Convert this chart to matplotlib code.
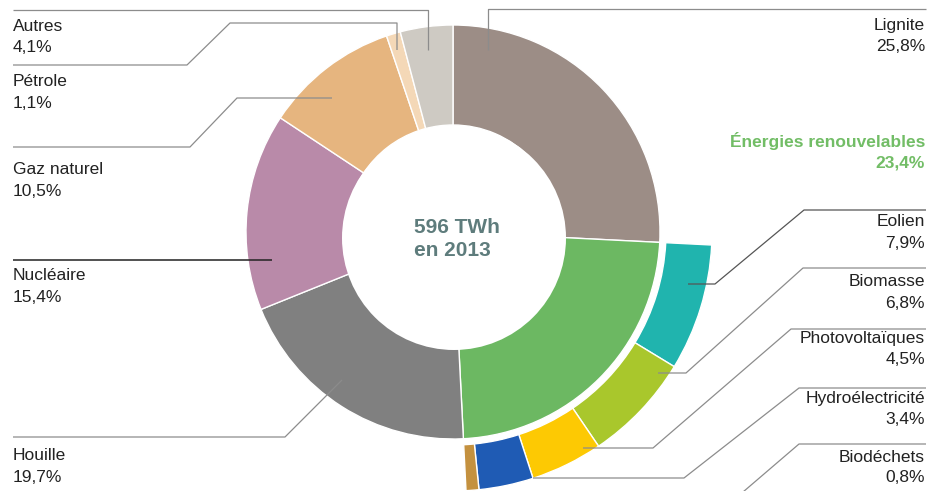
import matplotlib
matplotlib.use("Agg")
import matplotlib.pyplot as plt
import numpy as np
from matplotlib.patches import Circle

# ---- data ----
main_labels = ["Lignite", "Énergies renouvelables", "Houille", "Nucléaire",
               "Gaz naturel", "Pétrole", "Autres"]
main_values = [25.8, 23.4, 19.7, 15.4, 10.5, 1.1, 4.1]
main_colors = ["#9c8d86", "#6cb862", "#808080", "#b98aa9",
               "#e6b57f", "#f4d8b7", "#cecac3"]

ren_labels = ["Eolien", "Biomasse", "Photovoltaïques", "Hydroélectricité", "Biodéchets"]
ren_values = [7.9, 6.8, 4.5, 3.4, 0.8]
ren_colors = ["#20b4ae", "#a9c72c", "#fdc903", "#1f5bb4", "#c4913f"]

center_text = "596 TWh\nen 2013"

def fmt(v):
    return f"{v:.1f}".replace(".", ",") + "%"

W, H = 936, 491
fig = plt.figure(figsize=(W / 100, H / 100), dpi=100)
ax = fig.add_axes([0, 0, 1, 1])

def Y(p):
    return H - p

CX, CY = 453, Y(232)
R_IN, R_OUT = 207, 259

ax.pie(main_values, colors=main_colors, startangle=90, counterclock=False,
       radius=R_IN, center=(CX, CY),
       wedgeprops=dict(width=100, edgecolor="white", linewidth=1.0))
ax.add_patch(Circle((454, Y(238)), 112, facecolor="white", edgecolor="none", zorder=3))

start = 90 - 360 * main_values[0] / 100
ax.pie(np.array(ren_values) / 100, normalize=False, colors=ren_colors,
       startangle=start, counterclock=False, radius=R_OUT, center=(CX, CY),
       wedgeprops=dict(width=R_OUT - 213, edgecolor="white", linewidth=1.0))

ax.set_xlim(0, W)
ax.set_ylim(0, H)
ax.set_aspect("equal")
ax.axis("off")

FONT = "Liberation Sans"
TC = "#222222"
LC = "#8c8c8c"
FS = 12.5

def line(pts, color=LC, lw=0.9):
    xs = [p[0] for p in pts]
    ys = [Y(p[1]) for p in pts]
    ax.plot(xs, ys, color=color, lw=lw, solid_capstyle="butt", zorder=5)

# center text
ax.text(457, Y(239), center_text, ha="center", va="center", multialignment="left",
        fontsize=15, fontweight="bold", color="#5e7c7c", family=FONT,
        linespacing=1.25, zorder=6)

# left labels
left = {
    "Autres": (26, 47),
    "Pétrole": (81, 103),
    "Gaz naturel": (169, 191),
    "Nucléaire": (276, 297),
    "Houille": (456, 477),
}
for name, (y1, y2) in left.items():
    v = main_values[main_labels.index(name)]
    ax.text(13, Y(y1), name, ha="left", va="center", fontsize=FS, color=TC, family=FONT)
    ax.text(13, Y(y2), fmt(v), ha="left", va="center", fontsize=FS, color=TC, family=FONT)

# right labels
ax.text(925, Y(25), "Lignite", ha="right", va="center", fontsize=FS, color=TC, family=FONT)
ax.text(925, Y(46), fmt(main_values[0]), ha="right", va="center", fontsize=FS, color=TC, family=FONT)
ax.text(925, Y(141), main_labels[1], ha="right", va="center", fontsize=FS,
        color="#72bd66", family=FONT, fontweight="bold")
ax.text(925, Y(163), fmt(main_values[1]), ha="right", va="center", fontsize=FS,
        color="#72bd66", family=FONT, fontweight="bold")

right_pos = [(221, 243), (282, 303), (338, 359), (399, 420), (458, 478)]
for name, v, (y1, y2) in zip(ren_labels, ren_values, right_pos):
    ax.text(925, Y(y1), name, ha="right", va="center", fontsize=FS, color=TC, family=FONT)
    ax.text(925, Y(y2), fmt(v), ha="right", va="center", fontsize=FS, color=TC, family=FONT)

# leader lines
line([(428, 50), (428, 10), (13, 10)])
line([(397, 50), (397, 23), (230, 23), (187, 65), (13, 65)])
line([(332, 98), (237, 98), (190, 147), (13, 147)])
line([(272, 260), (13, 260)], color="#222222", lw=1.1)
line([(342, 380), (285, 437), (13, 437)])
line([(488, 50), (488, 9), (926, 9)])
line([(688, 284), (715, 284), (804, 210), (926, 210)], color="#555555")
line([(658, 373), (686, 373), (803, 268), (926, 268)])
line([(583, 448), (653, 448), (791, 329), (926, 329)])
line([(533, 478), (684, 478), (799, 388), (926, 388)])
line([(743, 492), (799, 444), (926, 444)])

fig.savefig("out.png", dpi=100)
